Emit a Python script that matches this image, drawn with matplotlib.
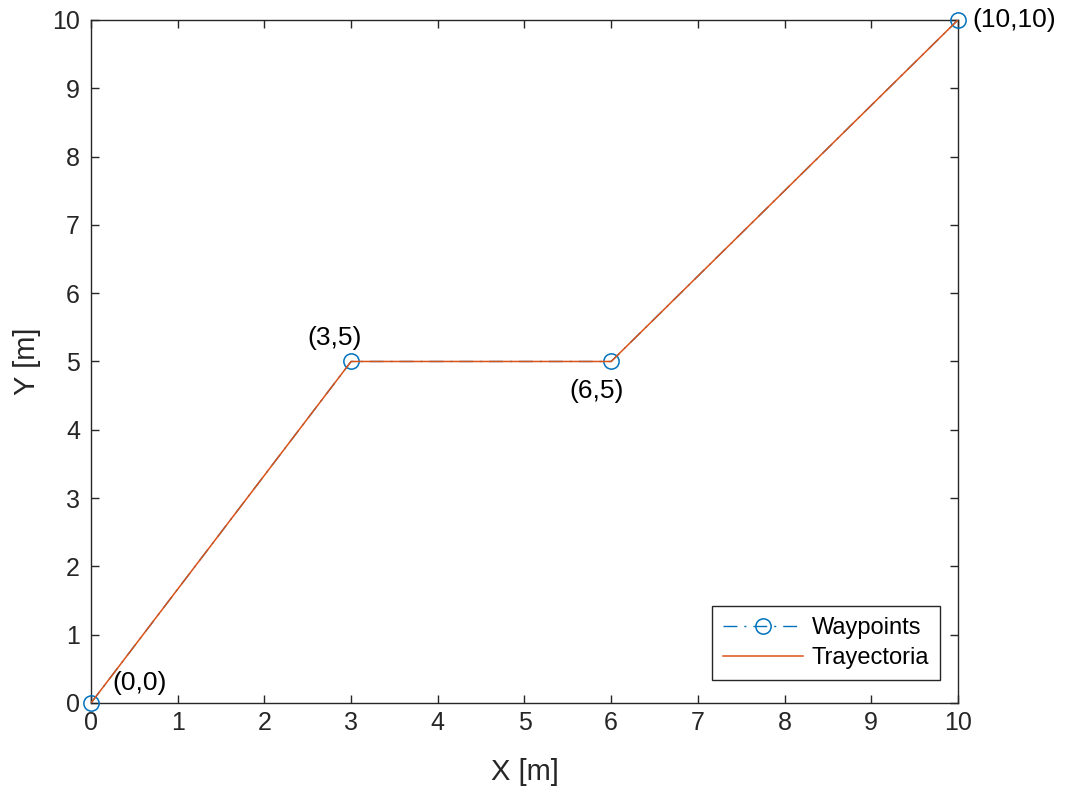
import matplotlib
matplotlib.use("Agg")
import matplotlib.pyplot as plt

plt.rcParams['font.family'] = ['Liberation Sans', 'DejaVu Sans']

# waypoints and resulting trajectory
wp_x = [0, 3, 6, 10]
wp_y = [0, 5, 5, 10]
tr_x = [0, 3, 6, 10]
tr_y = [0, 5, 5, 10]
wp_labels = ['(0,0)', '(3,5)', '(6,5)', '(10,10)']
lbl_pos = [(0.25, 0.29, 'left'), (2.81, 5.35, 'center'), (5.83, 4.57, 'center'), (10.17, 10.0, 'left')]

fig = plt.figure(figsize=(10.67, 7.89), dpi=100)
ax = fig.add_axes([0.0853, 0.109, 0.8125, 0.8657])

ax.plot(wp_x, wp_y, '-.o', color='#0072BD', lw=1, ms=11, mfc='none', mew=1.1,
        dashes=(10, 5, 1.5, 5), label='Waypoints', clip_on=False, zorder=3)
ax.plot(tr_x, tr_y, '-', color='#D95319', lw=1.1, label='Trayectoria', zorder=4)

for (tx, ty, ha), s in zip(lbl_pos, wp_labels):
    ax.text(tx, ty, s, fontsize=19, ha=ha, va='center', color='black')

ax.set_xlim(0, 10)
ax.set_ylim(0, 10)
ax.set_xticks(range(11))
ax.set_yticks(range(11))
ax.tick_params(direction='in', top=True, right=True, labelsize=18, colors='#262626', length=6, width=1)
ax.tick_params(axis='y', pad=8)
ax.tick_params(axis='x', pad=6)
for sp in ax.spines.values():
    sp.set_color('#262626')
    sp.set_linewidth(1)
ax.set_xlabel('X [m]', fontsize=21, color='#262626', labelpad=16)
ax.set_ylabel('Y [m]', fontsize=21, color='#262626', labelpad=8)

leg = ax.legend(loc='lower right', bbox_to_anchor=(0.979, 0.0337), fontsize=17, fancybox=False,
                edgecolor='#262626', framealpha=1, borderaxespad=0, handlelength=3.4,
                handletextpad=0.35, borderpad=0.45, labelspacing=0.35)
leg.get_frame().set_linewidth(1)

fig.savefig('out.png', dpi=100)
